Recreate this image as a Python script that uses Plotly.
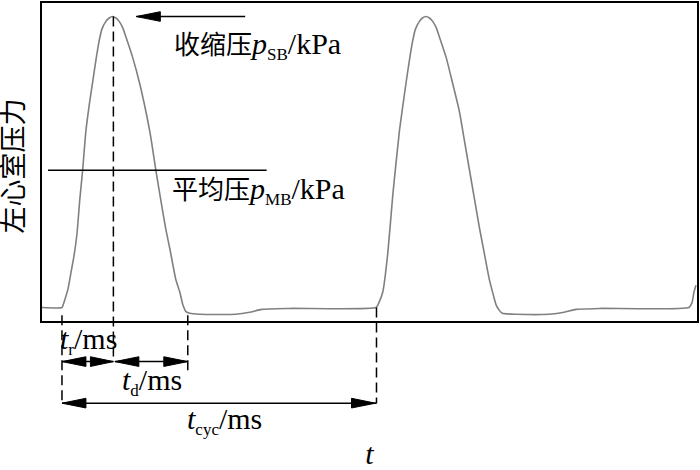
import plotly.graph_objects as go

# ---- data (arbitrary units: time along x, pressure along y) ----
time = [0, 20, 21.3, 23.5, 26, 29, 32, 35, 37.8, 40.7, 44, 47.5, 50.7, 54, 57.3,
        60, 64, 67.3, 70.7, 74, 77.3, 81, 84, 90.7, 98, 104, 109, 114, 119, 124,
        128, 134, 138, 141, 144, 148, 158, 194, 208, 220, 248, 334.7,
        337, 341.3, 346.3, 351.3, 358, 364.7, 368, 371.3, 374, 378, 381, 384.7,
        388, 391.3, 395, 398, 404.7, 411, 418, 423, 428, 433, 438, 443, 448,
        452, 454.7, 458, 461, 474.7, 508, 523, 534.7, 558, 648, 651, 653, 655]
pressure = [14, 14, 17, 24, 33, 50, 67, 90, 125, 156, 197, 225, 247, 270, 290,
            302, 310, 313.5, 315, 313.5, 310, 303, 294, 273, 245, 217, 190, 156,
            125, 95, 75, 43, 30, 17, 10, 8, 7, 7, 9, 12, 13, 14,
            18, 30, 70, 130, 197, 247, 270, 290, 302, 310, 313.5, 315,
            313.5, 310, 303, 294, 273, 247, 217, 187, 157, 127, 97, 70, 43,
            27, 17, 11, 8, 7, 7, 9, 12, 13, 14, 19, 30, 37]

# characteristic values
t_rise_start = 20      # start of systole
t_peak = 71.5          # time of systolic peak
t_fall_end = 146       # end of pressure fall
t_next_cycle = 335     # start of next cycle
p_SB = 315             # systolic pressure
p_MB = 156             # mean pressure

X_RANGE = [0, 656]
Y_RANGE = [0, 329]

SUB = '<sub><span style="font-size:17px">{}</span></sub>'
label_sys = ('<span style="font-size:26px">收缩压</span><i>p</i>'
             + SUB.format('SB') + '/kPa')
label_mean = ('<span style="font-size:26px">平均压</span><i>p</i>'
              + SUB.format('MB') + '/kPa')
label_tr = '<i>t</i>' + SUB.format('r') + '/ms'
label_td = '<i>t</i>' + SUB.format('d') + '/ms'
label_tcyc = '<i>t</i>' + SUB.format('cyc') + '/ms'
x_title = '<i>t</i>'
y_title = '左心室压力'

FONT = "Liberation Serif, 'Noto Sans CJK SC', serif"

fig = go.Figure()
fig.add_trace(go.Scatter(x=time, y=pressure, mode='lines',
                         line=dict(color='#808080', width=1.6,
                                   shape='spline', smoothing=0.5),
                         hoverinfo='skip', showlegend=False))


def py(v):
    """value in pressure units -> paper coordinate (allows below the axis)"""
    return v / Y_RANGE[1]


def px(v):
    return v / X_RANGE[1]


shapes = []
BLACK = '#000000'
DASH = '10px,5px'


def vdash(x, y0, y1):
    shapes.append(dict(type='line', xref='x', yref='paper', x0=x, x1=x,
                       y0=py(y0), y1=py(y1),
                       line=dict(color=BLACK, width=1.5, dash=DASH)))


def hline(x0, x1, y, yref='paper'):
    yy = py(y) if yref == 'paper' else y
    shapes.append(dict(type='line', xref='x', yref=yref, x0=x0, x1=x1,
                       y0=yy, y1=yy, line=dict(color=BLACK, width=1.5)))


def head(xtip, y, direction, yref='paper', L=24, h=5):
    xb = xtip - direction * L
    if yref == 'paper':
        yc, dy = py(y), h / Y_RANGE[1]
    else:
        yc, dy = y, h
    path = f'M {xtip},{yc} L {xb},{yc + dy} L {xb},{yc - dy} Z'
    shapes.append(dict(type='path', xref='x', yref=yref, path=path,
                       fillcolor=BLACK, line=dict(color=BLACK, width=1)))


# dashed markers
vdash(t_rise_start, 6, -83)
vdash(t_peak, p_SB, -40)
vdash(t_fall_end, 6, -55)
vdash(t_next_cycle, 14, -85)

# systolic arrow pointing at the peak
hline(t_peak + 23, t_peak + 132, p_SB, yref='y')
head(t_peak + 23, p_SB, -1, yref='y', L=24, h=5)

# mean pressure line
hline(6, 225, p_MB, yref='y')

# t_r arrows
hline(t_rise_start, t_peak, -42)
head(t_rise_start, -42, -1)
head(t_peak, -42, 1, L=23)
# t_d arrows
hline(t_peak + 1.5, t_fall_end, -42)
head(t_peak + 1.5, -42, -1)
head(t_fall_end, -42, 1)
# t_cyc arrow
hline(t_rise_start, t_next_cycle, -85)
head(t_rise_start, -85, -1)
head(t_next_cycle - 1, -85, 1)

annots = [
    dict(x=130, y=p_SB - 30, text=label_sys, yref='y'),
    dict(x=128, y=p_MB - 21, text=label_mean, yref='y'),
    dict(x=16, y=py(-20), text=label_tr, yref='paper'),
    dict(x=78, y=py(-63), text=label_td, yref='paper'),
    dict(x=143, y=py(-103), text=label_tcyc, yref='paper'),
]
for a in annots:
    a.update(xref='x', xanchor='left', yanchor='middle', showarrow=False,
             font=dict(family=FONT, size=30, color=BLACK))

# y-axis label (rotated)
annots.append(dict(xref='paper', yref='paper', x=px(-28), y=py(160),
                   text=y_title, textangle=-90, showarrow=False,
                   xanchor='center', yanchor='middle',
                   font=dict(family=FONT, size=27, color=BLACK)))

fig.update_layout(
    width=700, height=470,
    margin=dict(l=42, r=2, t=1, b=140),
    paper_bgcolor='white', plot_bgcolor='white',
    shapes=shapes, annotations=annots,
    showlegend=False,
    xaxis=dict(range=X_RANGE, showgrid=False, zeroline=False,
               showticklabels=False, ticks='', showline=True, mirror=True,
               linecolor=BLACK, linewidth=2,
               title=dict(text=x_title, standoff=127,
                          font=dict(family=FONT, size=30, color=BLACK))),
    yaxis=dict(range=Y_RANGE, showgrid=False, zeroline=False,
               showticklabels=False, ticks='', showline=True, mirror=True,
               linecolor=BLACK, linewidth=2),
)

fig.write_html(
    'out.html',
    config={'displayModeBar': False, 'staticPlot': True},
    post_script=("document.documentElement.style.margin='0';"
                 "document.body.style.margin='0';"),
)
